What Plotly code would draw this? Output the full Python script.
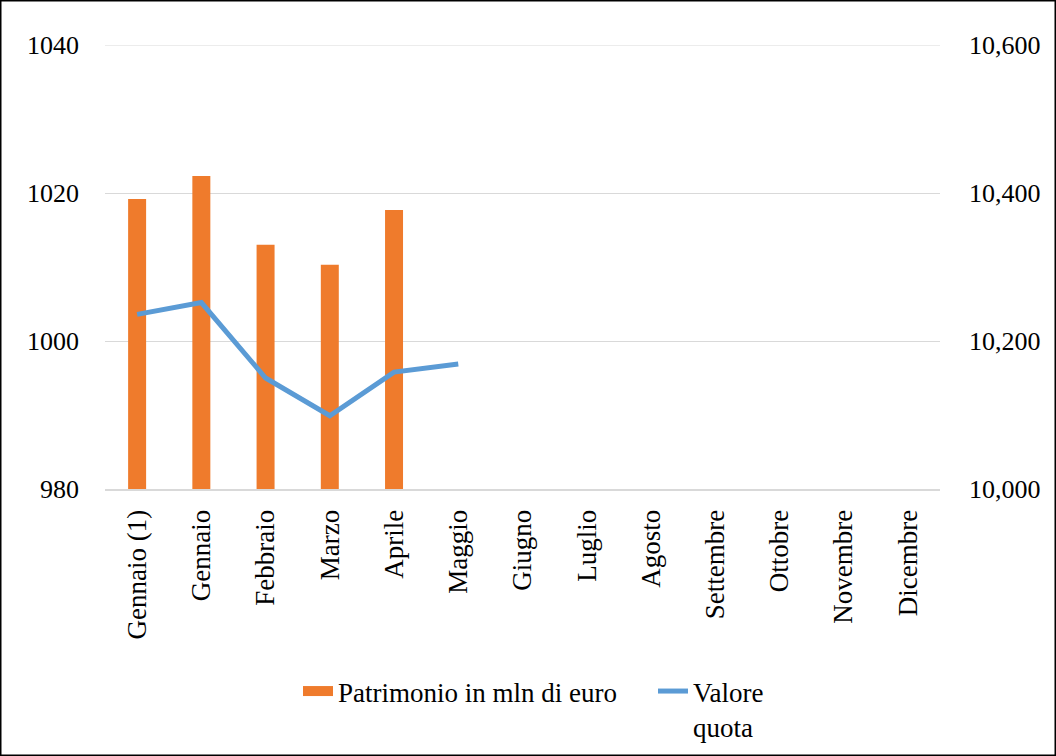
import plotly.graph_objects as go

categories = ["Gennaio (1)", "Gennaio", "Febbraio", "Marzo", "Aprile", "Maggio",
              "Giugno", "Luglio", "Agosto", "Settembre", "Ottobre", "Novembre", "Dicembre"]
patrimonio = [1019.2, 1022.3, 1013.0, 1010.3, 1017.7, None,
              None, None, None, None, None, None, None]
valore_quota = [10236, 10252, 10150, 10099, 10158, 10169,
                None, None, None, None, None, None, None]
left_ticks = [980, 1000, 1020, 1040]
right_ticks = [10000, 10200, 10400, 10600]

FONT = "Liberation Serif"
W, H = 1056, 756
L, R, T, B = 105, 116, 45, 267
pw, ph = W - L - R, H - T - B
BAR_COLOR = "#EF7B2C"
LINE_COLOR = "#5B9BD5"
GRID_COLOR = "#D9D9D9"


def px_x(x):
    return (x - L) / pw


def px_y(y):
    return (T + ph - y) / ph


fig = go.Figure()
fig.add_trace(go.Bar(
    x=categories, y=patrimonio, name="Patrimonio in mln di euro",
    marker=dict(color=BAR_COLOR, line=dict(width=0)), width=0.28,
    yaxis="y", showlegend=False,
))
# legend entry for the bars (wide swatch like the original)
fig.add_trace(go.Scatter(
    x=[categories[0]], y=[None], name="Patrimonio in mln di euro",
    mode="lines", line=dict(color=BAR_COLOR, width=12), yaxis="y",
    legend="legend", hoverinfo="skip",
))
fig.add_trace(go.Scatter(
    x=categories, y=valore_quota, name="Valore<br>quota",
    mode="lines", line=dict(color=LINE_COLOR, width=5), yaxis="y2",
    legend="legend2",
))

legend_common = dict(orientation="h", xanchor="left", yanchor="top",
                     font=dict(family=FONT, size=27, color="black"),
                     valign="top", bgcolor="rgba(0,0,0,0)")

fig.update_layout(
    width=W, height=H,
    margin=dict(l=L, r=R, t=T, b=B, autoexpand=False),
    paper_bgcolor="white", plot_bgcolor="white",
    font=dict(family=FONT, size=26, color="black"),
    showlegend=True,
    legend=dict(x=px_x(298), y=px_y(667), **legend_common),
    legend2=dict(x=px_x(653), y=px_y(667), **legend_common),
    xaxis=dict(type="category", tickangle=-90, showgrid=False,
               showline=True, linecolor=GRID_COLOR, linewidth=2,
               ticks="", tickfont=dict(family=FONT, size=27, color="black"),
               ticklabelstandoff=8, automargin=False),
    yaxis=dict(range=[left_ticks[0], left_ticks[-1]], tickvals=left_ticks,
               showgrid=True, gridcolor=GRID_COLOR, gridwidth=1,
               zeroline=False, showline=False, ticks="",
               tickfont=dict(family=FONT, size=26, color="black"),
               ticklabelstandoff=25, automargin=False),
    yaxis2=dict(range=[right_ticks[0], right_ticks[-1]], tickvals=right_ticks,
                tickformat=",", overlaying="y", side="right",
                showgrid=False, zeroline=False, showline=False, ticks="",
                tickfont=dict(family=FONT, size=26, color="black"),
                ticklabelstandoff=28, automargin=False),
    shapes=[
        # top gridline (plotly drops grid lines lying on the range edge)
        dict(type="line", xref="paper", yref="y", x0=0, x1=1,
             y0=left_ticks[-1], y1=left_ticks[-1],
             line=dict(color=GRID_COLOR, width=1), layer="below"),
        dict(type="rect", xref="paper", yref="paper",
             x0=px_x(0.75), x1=px_x(W - 0.75),
             y0=px_y(H - 0.75), y1=px_y(0.75),
             line=dict(color="black", width=1.5), layer="above"),
    ],
)

fig.write_html(
    "out.html",
    config={"displayModeBar": False},
    post_script="document.body.style.margin='0';document.body.style.overflow='hidden';",
)
